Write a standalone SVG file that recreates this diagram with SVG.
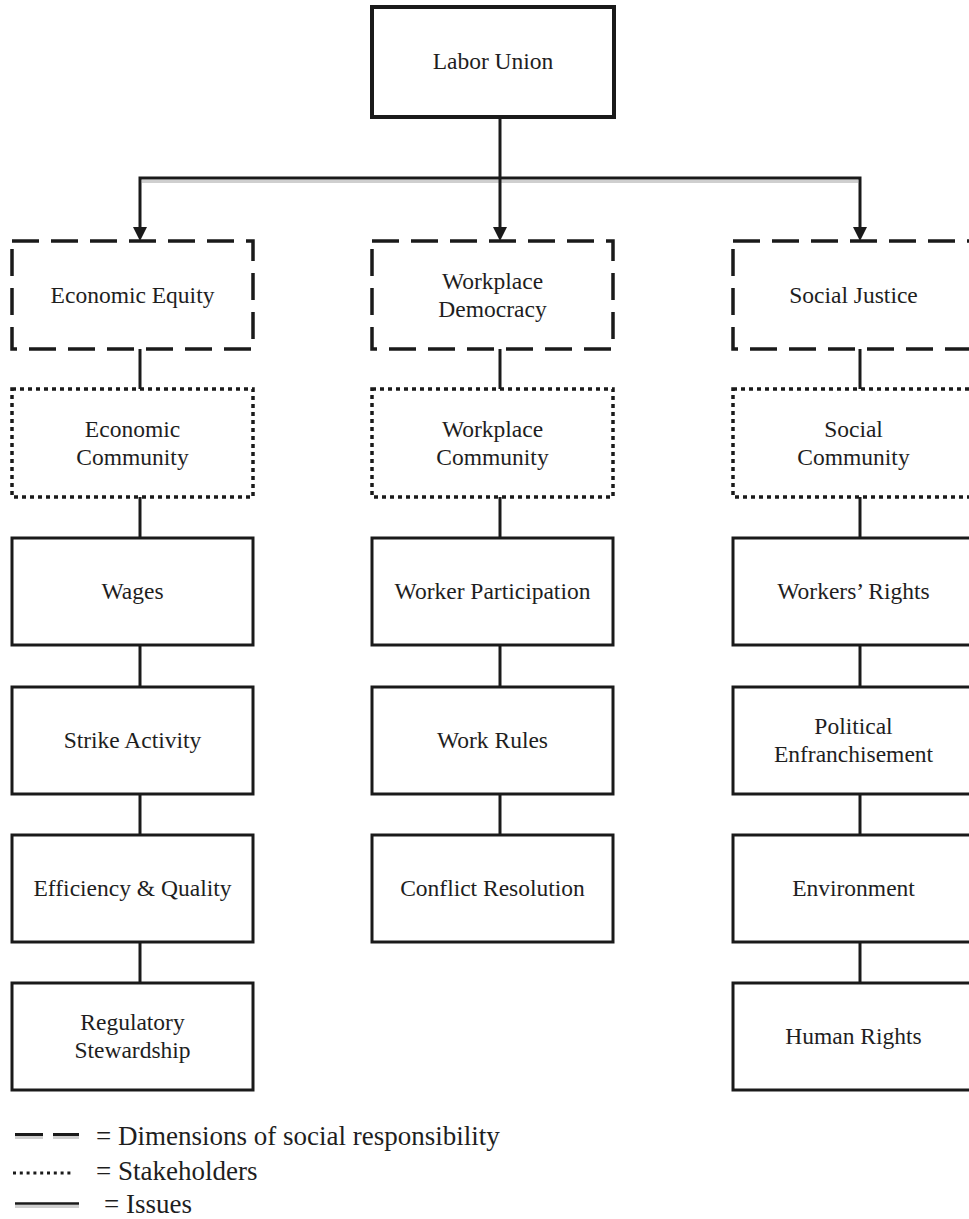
<svg xmlns="http://www.w3.org/2000/svg" width="969" height="1219" viewBox="0 0 969 1219">
<defs>
<style>
text{font-family:"Liberation Serif","Times New Roman",serif;fill:#1e1e1e;text-anchor:middle;font-size:23.5px}
.issue{fill:#fff;stroke:#1a1a1a;stroke-width:3}
.dim{fill:#fff;stroke:#1a1a1a;stroke-width:3.5;stroke-dasharray:27 12}
.stk{fill:#fff;stroke:#1a1a1a;stroke-width:3.5;stroke-dasharray:4 4}
.top{fill:#fff;stroke:#1a1a1a;stroke-width:4}
.con{stroke:#1a1a1a;stroke-width:3;fill:none}
.shadow{stroke:#cfcfcf;stroke-width:3;fill:none}
.leg{text-anchor:start;font-size:27px}
</style>
</defs>
<rect width="969" height="1219" fill="#fff"/>

<g id="connectors">
<line class="shadow" x1="142" y1="181.5" x2="858" y2="181.5"/>
<line class="con" x1="500" y1="117" x2="500" y2="178"/>
<polyline class="con" points="140,228 140,178 860,178 860,228"/>
<line class="con" x1="500" y1="178" x2="500" y2="228"/>
<path d="M133,227 L147,227 L140,241 Z" fill="#1a1a1a"/>
<path d="M493,227 L507,227 L500,241 Z" fill="#1a1a1a"/>
<path d="M853,227 L867,227 L860,241 Z" fill="#1a1a1a"/>
<line class="con" x1="140" y1="349" x2="140" y2="389"/>
<line class="con" x1="140" y1="497" x2="140" y2="538"/>
<line class="con" x1="140" y1="645" x2="140" y2="687"/>
<line class="con" x1="140" y1="794" x2="140" y2="835"/>
<line class="con" x1="140" y1="942" x2="140" y2="983"/>
<line class="con" x1="500" y1="349" x2="500" y2="389"/>
<line class="con" x1="500" y1="497" x2="500" y2="538"/>
<line class="con" x1="500" y1="645" x2="500" y2="687"/>
<line class="con" x1="500" y1="794" x2="500" y2="835"/>
<line class="con" x1="860" y1="349" x2="860" y2="389"/>
<line class="con" x1="860" y1="497" x2="860" y2="538"/>
<line class="con" x1="860" y1="645" x2="860" y2="687"/>
<line class="con" x1="860" y1="794" x2="860" y2="835"/>
<line class="con" x1="860" y1="942" x2="860" y2="983"/>
</g>

<g id="labor-union"><rect class="top" x="372" y="7" width="242" height="110"/><text x="493" y="69">Labor Union</text></g>

<g id="economic-equity"><rect class="dim" x="12" y="241" width="241" height="108"/><text x="132.5" y="303">Economic Equity</text></g>
<g id="workplace-democracy"><rect class="dim" x="372" y="241" width="241" height="108"/><text x="492.5" y="289">Workplace</text><text x="492.5" y="317">Democracy</text></g>
<g id="social-justice"><rect class="dim" x="733" y="241" width="241" height="108"/><text x="853.5" y="303">Social Justice</text></g>

<g id="economic-community"><rect class="stk" x="12" y="389" width="241" height="108"/><text x="132.5" y="437">Economic</text><text x="132.5" y="465">Community</text></g>
<g id="workplace-community"><rect class="stk" x="372" y="389" width="241" height="108"/><text x="492.5" y="437">Workplace</text><text x="492.5" y="465">Community</text></g>
<g id="social-community"><rect class="stk" x="733" y="389" width="241" height="108"/><text x="853.5" y="437">Social</text><text x="853.5" y="465">Community</text></g>

<g id="wages"><rect class="issue" x="12" y="538" width="241" height="107"/><text x="132.5" y="599">Wages</text></g>
<g id="strike-activity"><rect class="issue" x="12" y="687" width="241" height="107"/><text x="132.5" y="748">Strike Activity</text></g>
<g id="efficiency-quality"><rect class="issue" x="12" y="835" width="241" height="107"/><text x="132.5" y="896">Efficiency &amp; Quality</text></g>
<g id="regulatory-stewardship"><rect class="issue" x="12" y="983" width="241" height="107"/><text x="132.5" y="1030">Regulatory</text><text x="132.5" y="1058">Stewardship</text></g>

<g id="worker-participation"><rect class="issue" x="372" y="538" width="241" height="107"/><text x="492.5" y="599">Worker Participation</text></g>
<g id="work-rules"><rect class="issue" x="372" y="687" width="241" height="107"/><text x="492.5" y="748">Work Rules</text></g>
<g id="conflict-resolution"><rect class="issue" x="372" y="835" width="241" height="107"/><text x="492.5" y="896">Conflict Resolution</text></g>

<g id="workers-rights"><rect class="issue" x="733" y="538" width="241" height="107"/><text x="853.5" y="599">Workers’ Rights</text></g>
<g id="political-enfranchisement"><rect class="issue" x="733" y="687" width="241" height="107"/><text x="853.5" y="734">Political</text><text x="853.5" y="762">Enfranchisement</text></g>
<g id="environment"><rect class="issue" x="733" y="835" width="241" height="107"/><text x="853.5" y="896">Environment</text></g>
<g id="human-rights"><rect class="issue" x="733" y="983" width="241" height="107"/><text x="853.5" y="1044">Human Rights</text></g>

<g id="legend">
<line x1="15" y1="1137.5" x2="43" y2="1137.5" stroke="#cfcfcf" stroke-width="3"/>
<line x1="53" y1="1137.5" x2="79" y2="1137.5" stroke="#cfcfcf" stroke-width="3"/>
<line x1="15" y1="1134.5" x2="43" y2="1134.5" stroke="#1a1a1a" stroke-width="3"/>
<line x1="53" y1="1134.5" x2="79" y2="1134.5" stroke="#1a1a1a" stroke-width="3"/>
<text class="leg" x="96" y="1145">= Dimensions of social responsibility</text>
<line x1="13" y1="1173" x2="74" y2="1173" stroke="#1a1a1a" stroke-width="3" stroke-dasharray="3 3.8"/>
<text class="leg" x="96" y="1180">= Stakeholders</text>
<line x1="15" y1="1206.5" x2="79" y2="1206.5" stroke="#cfcfcf" stroke-width="3"/>
<line x1="15" y1="1203.5" x2="79" y2="1203.5" stroke="#1a1a1a" stroke-width="2.5"/>
<text class="leg" x="104" y="1213">= Issues</text>
</g>
</svg>
